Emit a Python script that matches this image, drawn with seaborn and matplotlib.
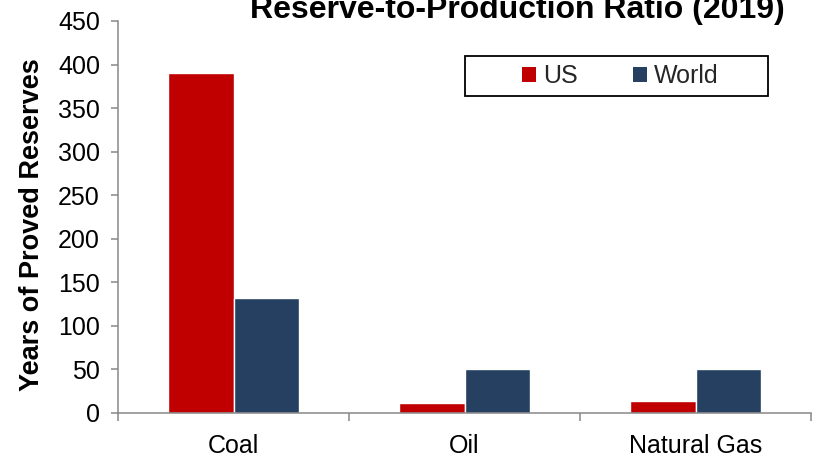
import matplotlib
matplotlib.use("Agg")
import matplotlib.pyplot as plt
import seaborn as sns
import pandas as pd
from matplotlib.patches import Patch, Rectangle

# Reserve-to-production ratios, years of proved reserves
categories = ["Coal", "Oil", "Natural Gas"]
us_years = [390, 11, 14]
world_years = [132, 50, 50]
series = ["US", "World"]
y_ticks = [0, 50, 100, 150, 200, 250, 300, 350, 400, 450]

df = pd.DataFrame({
    "Fuel": categories * 2,
    "Region": ["US"] * len(categories) + ["World"] * len(categories),
    "Years": us_years + world_years,
})

sns.set_theme(style="white")
plt.rcParams["font.family"] = ["Liberation Sans", "DejaVu Sans"]

colors = {"US": "#C00000", "World": "#254061"}
axis_gray = "#888888"

W, H = 816, 462
fig = plt.figure(figsize=(W / 100, H / 100), dpi=100)
ax = fig.add_axes([118 / W, 1 - 413 / H, (811 - 118) / W, (413 - 21) / H])

sns.barplot(data=df, x="Fuel", y="Years", hue="Region", order=categories,
            hue_order=series, palette=colors, width=0.571, saturation=1,
            ax=ax, legend=False)

ax.set_ylim(0, 450)
ax.set_xlim(-0.5, 2.5)
ax.set_yticks(y_ticks)
ax.set_yticklabels([str(t) for t in y_ticks], fontsize=18, color="black")
ax.set_xticks(range(len(categories)))
ax.set_xticklabels(categories, fontsize=18, color="black")
ax.set_xticks([-0.5, 0.5, 1.5, 2.5], minor=True)
ax.tick_params(axis="x", which="major", length=0, pad=15)
ax.tick_params(axis="x", which="minor", length=5.5, width=1.1, color=axis_gray,
               direction="out", bottom=True)
ax.tick_params(axis="y", length=5, width=1.1, color=axis_gray, direction="out",
               left=True, pad=8)

for side in ["top", "right"]:
    ax.spines[side].set_visible(False)
for side in ["left", "bottom"]:
    ax.spines[side].set_color(axis_gray)
    ax.spines[side].set_linewidth(1.1)

ax.set_xlabel("")
ax.set_ylabel("Years of Proved Reserves", fontsize=19.5, fontweight="bold",
              color="black", va="center")
ax.yaxis.set_label_coords((32 - 118) / (811 - 118), (413 - 225) / (413 - 21))
ax.grid(False)

fig.text(517 / W, 1 - 18 / H, "Reserve-to-Production Ratio (2019)",
         ha="center", va="baseline", fontsize=23, fontweight="bold",
         color="black")

# Legend entries without their own frame, inside a wider outlined box
handles = [Patch(facecolor=colors[s], edgecolor="none", label=s) for s in series]
leg = fig.legend(handles=handles, loc="center", ncol=2,
                 bbox_to_anchor=(620.5 / W, 1 - 76 / H), fontsize=18,
                 frameon=False, handlelength=0.56, handleheight=0.56,
                 handletextpad=0.28, columnspacing=2.2, borderpad=0,
                 borderaxespad=0)
fig.add_artist(Rectangle((465 / W, 1 - 96 / H), (768 - 465) / W, 40 / H,
                         transform=fig.transFigure, facecolor="white",
                         edgecolor="black", linewidth=1.3, zorder=2))
leg.set_zorder(3)

fig.savefig("out.png", dpi=100)
